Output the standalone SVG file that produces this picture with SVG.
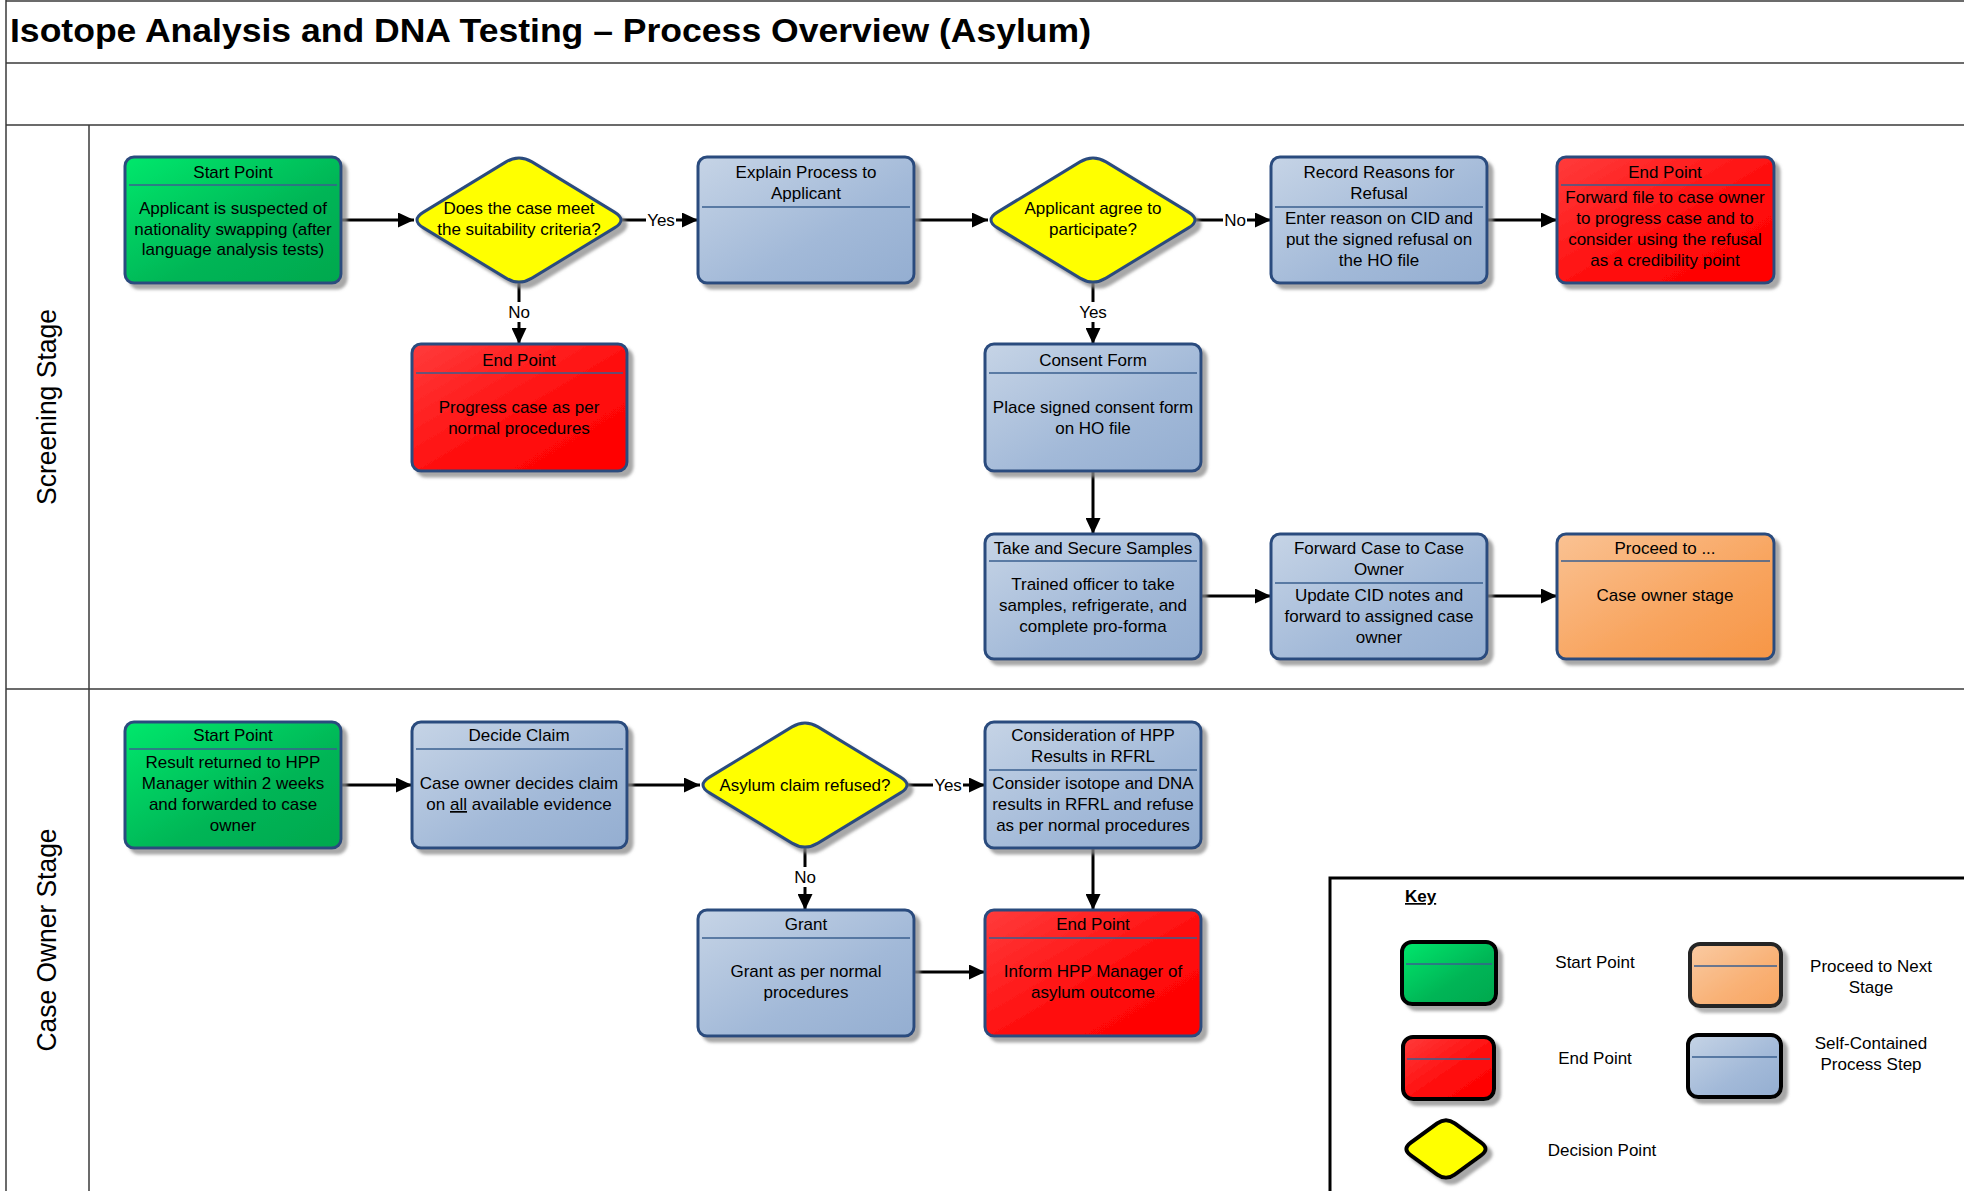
<svg xmlns="http://www.w3.org/2000/svg" width="1964" height="1191" viewBox="0 0 1964 1191">
<defs>
<linearGradient id="gGreen" x1="0" y1="0" x2="1" y2="1"><stop offset="0" stop-color="#00E86C"/><stop offset="0.6" stop-color="#00B556"/><stop offset="1" stop-color="#00A84E"/></linearGradient>
<linearGradient id="gRed" x1="0" y1="0" x2="1" y2="1"><stop offset="0" stop-color="#FF3C3C"/><stop offset="0.6" stop-color="#FF0A0A"/><stop offset="1" stop-color="#FF0000"/></linearGradient>
<linearGradient id="gBlue" x1="0" y1="0" x2="1" y2="1"><stop offset="0" stop-color="#C6D4E6"/><stop offset="0.6" stop-color="#A2B9D8"/><stop offset="1" stop-color="#94AED1"/></linearGradient>
<linearGradient id="gOrange" x1="0" y1="0" x2="1" y2="1"><stop offset="0" stop-color="#FAC293"/><stop offset="0.6" stop-color="#F8A45E"/><stop offset="1" stop-color="#F79646"/></linearGradient>
<filter id="sh" x="-10%" y="-10%" width="130%" height="130%"><feGaussianBlur in="SourceAlpha" stdDeviation="1.5"/><feOffset dx="5" dy="5" result="o"/><feFlood flood-color="#8a8a8a" flood-opacity="0.75"/><feComposite in2="o" operator="in"/><feMerge><feMergeNode/><feMergeNode in="SourceGraphic"/></feMerge></filter>
<marker id="ah" markerUnits="userSpaceOnUse" markerWidth="16" markerHeight="15" refX="16" refY="7.5" orient="auto"><path d="M0,0 L16,7.5 L0,15 z" fill="#000"/></marker>
<path id="dia" d="M -95.5,7.9 Q -108.5,0 -95.5,-7.9 L -13,-58.1 Q 0,-66 13,-58.1 L 95.5,-7.9 Q 108.5,0 95.5,7.9 L 13,58.1 Q 0,66 -13,58.1 Z"/>
</defs>
<style>
text{font-family:"Liberation Sans",Arial,sans-serif;fill:#000}
.t{font-size:17px;text-anchor:middle}
.box{stroke:#2B4C7E;stroke-width:3}
.hl{stroke:#3A5F8F;stroke-width:1.5}
.dm{fill:#FFFF00;stroke:#2B4C7E;stroke-width:3}
.frame{stroke:#3a3a3a;stroke-width:1.5;fill:none}
.c{stroke:#000;stroke-width:3;fill:none;marker-end:url(#ah)}
.lbl{fill:#fff}
.kbox{stroke:#000;stroke-width:4}
.lane{font-size:27px;text-anchor:middle}
</style>
<rect width="1964" height="1191" fill="#fff"/>
<g id="frame">
<line class="frame" x1="6" y1="1" x2="1964" y2="1"/>
<line class="frame" x1="6" y1="0" x2="6" y2="1191"/>
<line class="frame" x1="6" y1="63" x2="1964" y2="63" stroke-width="2"/>
<line class="frame" x1="6" y1="125" x2="1964" y2="125" stroke-width="2"/>
<line class="frame" x1="89" y1="125" x2="89" y2="1191"/>
<line class="frame" x1="6" y1="689" x2="1964" y2="689" stroke-width="2"/>
<text x="10" y="42" font-size="33" font-weight="bold" textLength="1081" lengthAdjust="spacingAndGlyphs">Isotope Analysis and DNA Testing – Process Overview (Asylum)</text>
<text class="lane" transform="translate(56,407) rotate(-90)" textLength="196" lengthAdjust="spacingAndGlyphs">Screening Stage</text>
<text class="lane" transform="translate(56,940) rotate(-90)" textLength="223" lengthAdjust="spacingAndGlyphs">Case Owner Stage</text>
</g>

<g id="connectors">
<line class="c" x1="341" y1="220" x2="414" y2="220"/>
<line class="c" x1="621" y1="220" x2="698" y2="220"/>
<line class="c" x1="914" y1="220" x2="988" y2="220"/>
<line class="c" x1="1195" y1="220" x2="1271" y2="220"/>
<line class="c" x1="1487" y1="220" x2="1557" y2="220"/>
<line class="c" x1="519" y1="282" x2="519" y2="344"/>
<line class="c" x1="1093" y1="282" x2="1093" y2="344"/>
<line class="c" x1="1093" y1="471" x2="1093" y2="534"/>
<line class="c" x1="1200" y1="596" x2="1271" y2="596"/>
<line class="c" x1="1487" y1="596" x2="1557" y2="596"/>
<line class="c" x1="341" y1="785" x2="412" y2="785"/>
<line class="c" x1="627" y1="785" x2="700" y2="785"/>
<line class="c" x1="908" y1="785" x2="985" y2="785"/>
<line class="c" x1="805" y1="847" x2="805" y2="910"/>
<line class="c" x1="1093" y1="848" x2="1093" y2="910"/>
<line class="c" x1="914" y1="972" x2="985" y2="972"/>
<rect class="lbl" x="646" y="210" width="30" height="20"/><text class="t" x="661" y="226">Yes</text>
<rect class="lbl" x="1223" y="210" width="24" height="20"/><text class="t" x="1235" y="226">No</text>
<rect class="lbl" x="507" y="302" width="24" height="20"/><text class="t" x="519" y="318">No</text>
<rect class="lbl" x="1078" y="302" width="30" height="20"/><text class="t" x="1093" y="318">Yes</text>
<rect class="lbl" x="933" y="775" width="30" height="20"/><text class="t" x="948" y="791">Yes</text>
<rect class="lbl" x="793" y="867" width="24" height="20"/><text class="t" x="805" y="883">No</text>
</g>

<g id="start1">
<rect class="box" x="125" y="157" width="216" height="126" rx="9" fill="url(#gGreen)" filter="url(#sh)"/>
<line class="hl" x1="129" y1="185" x2="337" y2="185"/>
<text class="t" x="233" y="178">Start Point</text>
<text class="t" x="233" y="214">Applicant is suspected of</text>
<text class="t" x="233" y="235">nationality swapping (after</text>
<text class="t" x="233" y="255">language analysis tests)</text>
</g>

<g id="decision1">
<use href="#dia" class="dm" transform="translate(519,220)" filter="url(#sh)"/>
<text class="t" x="519" y="214">Does the case meet</text>
<text class="t" x="519" y="235">the suitability criteria?</text>
</g>

<g id="explain">
<rect class="box" x="698" y="157" width="216" height="126" rx="9" fill="url(#gBlue)" filter="url(#sh)"/>
<line class="hl" x1="702" y1="207" x2="910" y2="207"/>
<text class="t" x="806" y="178">Explain Process to</text>
<text class="t" x="806" y="199">Applicant</text>
</g>

<g id="decision2">
<use href="#dia" class="dm" transform="translate(1093,220)" filter="url(#sh)"/>
<text class="t" x="1093" y="214">Applicant agree to</text>
<text class="t" x="1093" y="235">participate?</text>
</g>

<g id="record">
<rect class="box" x="1271" y="157" width="216" height="126" rx="9" fill="url(#gBlue)" filter="url(#sh)"/>
<line class="hl" x1="1275" y1="207" x2="1483" y2="207"/>
<text class="t" x="1379" y="178">Record Reasons for</text>
<text class="t" x="1379" y="199">Refusal</text>
<text class="t" x="1379" y="224">Enter reason on CID and</text>
<text class="t" x="1379" y="245">put the signed refusal on</text>
<text class="t" x="1379" y="266">the HO file</text>
</g>

<g id="end1">
<rect class="box" x="1557" y="157" width="217" height="126" rx="9" fill="url(#gRed)" filter="url(#sh)"/>
<line class="hl" x1="1561" y1="185" x2="1770" y2="185"/>
<text class="t" x="1665" y="178">End Point</text>
<text class="t" x="1665" y="203">Forward file to case owner</text>
<text class="t" x="1665" y="224">to progress case and to</text>
<text class="t" x="1665" y="245">consider using the refusal</text>
<text class="t" x="1665" y="266">as a credibility point</text>
</g>

<g id="end2">
<rect class="box" x="412" y="344" width="215" height="127" rx="9" fill="url(#gRed)" filter="url(#sh)"/>
<line class="hl" x1="416" y1="373" x2="623" y2="373"/>
<text class="t" x="519" y="366">End Point</text>
<text class="t" x="519" y="413">Progress case as per</text>
<text class="t" x="519" y="434">normal procedures</text>
</g>

<g id="consent">
<rect class="box" x="985" y="344" width="216" height="127" rx="9" fill="url(#gBlue)" filter="url(#sh)"/>
<line class="hl" x1="989" y1="373" x2="1197" y2="373"/>
<text class="t" x="1093" y="366">Consent Form</text>
<text class="t" x="1093" y="413">Place signed consent form</text>
<text class="t" x="1093" y="434">on HO file</text>
</g>

<g id="samples">
<rect class="box" x="985" y="534" width="216" height="125" rx="9" fill="url(#gBlue)" filter="url(#sh)"/>
<line class="hl" x1="989" y1="561" x2="1197" y2="561"/>
<text class="t" x="1093" y="554">Take and Secure Samples</text>
<text class="t" x="1093" y="590">Trained officer to take</text>
<text class="t" x="1093" y="611">samples, refrigerate, and</text>
<text class="t" x="1093" y="632">complete pro-forma</text>
</g>

<g id="forward">
<rect class="box" x="1271" y="534" width="216" height="125" rx="9" fill="url(#gBlue)" filter="url(#sh)"/>
<line class="hl" x1="1275" y1="583" x2="1483" y2="583"/>
<text class="t" x="1379" y="554">Forward Case to Case</text>
<text class="t" x="1379" y="575">Owner</text>
<text class="t" x="1379" y="601">Update CID notes and</text>
<text class="t" x="1379" y="622">forward to assigned case</text>
<text class="t" x="1379" y="643">owner</text>
</g>

<g id="proceed">
<rect class="box" x="1557" y="534" width="217" height="125" rx="9" fill="url(#gOrange)" filter="url(#sh)"/>
<line class="hl" x1="1561" y1="561" x2="1770" y2="561" stroke="#6b7a8f"/>
<text class="t" x="1665" y="554">Proceed to ...</text>
<text class="t" x="1665" y="601">Case owner stage</text>
</g>

<g id="start2">
<rect class="box" x="125" y="722" width="216" height="126" rx="9" fill="url(#gGreen)" filter="url(#sh)"/>
<line class="hl" x1="129" y1="749" x2="337" y2="749"/>
<text class="t" x="233" y="741">Start Point</text>
<text class="t" x="233" y="768">Result returned to HPP</text>
<text class="t" x="233" y="789">Manager within 2 weeks</text>
<text class="t" x="233" y="810">and forwarded to case</text>
<text class="t" x="233" y="831">owner</text>
</g>

<g id="decide">
<rect class="box" x="412" y="722" width="215" height="126" rx="9" fill="url(#gBlue)" filter="url(#sh)"/>
<line class="hl" x1="416" y1="749" x2="623" y2="749"/>
<text class="t" x="519" y="741">Decide Claim</text>
<text class="t" x="519" y="789">Case owner decides claim</text>
<text class="t" x="519" y="810">on <tspan text-decoration="underline">all</tspan> available evidence</text>
</g>

<g id="decision3">
<use href="#dia" class="dm" transform="translate(805,785)" filter="url(#sh)"/>
<text class="t" x="805" y="791">Asylum claim refused?</text>
</g>

<g id="consideration">
<rect class="box" x="985" y="722" width="216" height="126" rx="9" fill="url(#gBlue)" filter="url(#sh)"/>
<line class="hl" x1="989" y1="770" x2="1197" y2="770"/>
<text class="t" x="1093" y="741">Consideration of HPP</text>
<text class="t" x="1093" y="762">Results in RFRL</text>
<text class="t" x="1093" y="789">Consider isotope and DNA</text>
<text class="t" x="1093" y="810">results in RFRL and refuse</text>
<text class="t" x="1093" y="831">as per normal procedures</text>
</g>

<g id="grant">
<rect class="box" x="698" y="910" width="216" height="126" rx="9" fill="url(#gBlue)" filter="url(#sh)"/>
<line class="hl" x1="702" y1="938" x2="910" y2="938"/>
<text class="t" x="806" y="930">Grant</text>
<text class="t" x="806" y="977">Grant as per normal</text>
<text class="t" x="806" y="998">procedures</text>
</g>

<g id="end3">
<rect class="box" x="985" y="910" width="216" height="126" rx="9" fill="url(#gRed)" filter="url(#sh)"/>
<line class="hl" x1="989" y1="938" x2="1197" y2="938"/>
<text class="t" x="1093" y="930">End Point</text>
<text class="t" x="1093" y="977">Inform HPP Manager of</text>
<text class="t" x="1093" y="998">asylum outcome</text>
</g>

<g id="key">
<rect x="1330" y="878" width="700" height="400" fill="none" stroke="#000" stroke-width="3"/>
<text x="1405" y="902" font-size="17" font-weight="bold" text-decoration="underline">Key</text>
<rect class="kbox" x="1402" y="942" width="94" height="62" rx="10" fill="url(#gGreen)" filter="url(#sh)"/>
<line class="hl" x1="1406" y1="964" x2="1492" y2="964"/>
<text class="t" x="1595" y="968">Start Point</text>
<rect class="kbox" x="1690" y="944" width="91" height="62" rx="10" fill="url(#gOrange)" filter="url(#sh)" opacity="0.85"/>
<line class="hl" x1="1694" y1="966" x2="1777" y2="966"/>
<text class="t" x="1871" y="972">Proceed to Next</text>
<text class="t" x="1871" y="993">Stage</text>
<rect class="kbox" x="1403" y="1037" width="91" height="62" rx="10" fill="url(#gRed)" filter="url(#sh)"/>
<line class="hl" x1="1407" y1="1059" x2="1490" y2="1059"/>
<text class="t" x="1595" y="1064">End Point</text>
<rect class="kbox" x="1688" y="1035" width="93" height="62" rx="10" fill="url(#gBlue)" filter="url(#sh)"/>
<line class="hl" x1="1692" y1="1057" x2="1777" y2="1057"/>
<text class="t" x="1871" y="1049">Self-Contained</text>
<text class="t" x="1871" y="1070">Process Step</text>
<path d="M -35.2,6.4 Q -44,0 -35.2,-6.4 L -8.8,-25.6 Q 0,-32 8.8,-25.6 L 35.2,-6.4 Q 44,0 35.2,6.4 L 8.8,25.6 Q 0,32 -8.8,25.6 Z" transform="translate(1446,1149)" fill="#FFFF00" stroke="#000" stroke-width="4" filter="url(#sh)"/>
<text class="t" x="1602" y="1156">Decision Point</text>
</g>
</svg>
